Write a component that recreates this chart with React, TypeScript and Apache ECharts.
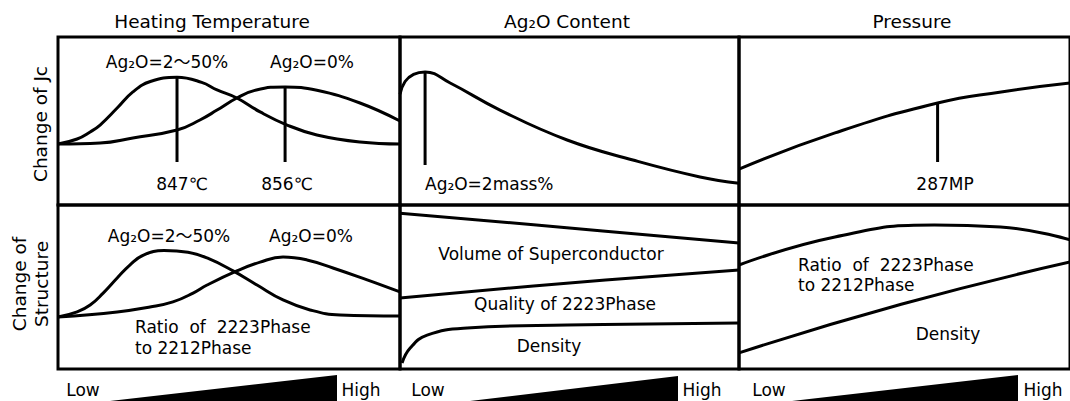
import React, { useEffect, useRef } from "react";
import * as echarts from "echarts";

// ---- data (x: 0 = Low … 100 = High, y: 0 … 100 relative change) ----
const heatJcA = [[0, 36.3], [5.6, 39.3], [9.4, 43.5], [12.3, 47.6], [17.3, 57.7], [21.9, 67.3], [27, 73.5], [34.8, 76], [42, 73], [46.5, 68.5], [52.3, 63.7], [59.1, 55.4], [67, 47.6], [75.7, 41.7], [88.3, 37.5], [100, 36.3]];
const heatJcB = [[0, 36.3], [12.3, 36.9], [21.9, 39.9], [34.8, 44.6], [41.5, 50.6], [46.5, 56.5], [52.3, 63.7], [58, 68.5], [66.4, 70.3], [75.7, 68.3], [88.3, 60.7], [100, 50]];
const heatJcMarkA = [[34.8, 76], [34.8, 25.6]];
const heatJcMarkB = [[66.4, 70.3], [66.4, 25.6]];

const contentJc = [[0, 66], [1.5, 73.5], [4, 77.8], [7.4, 79.2], [14.8, 72.6], [29.5, 56.5], [49.3, 38.7], [68.7, 26.8], [88.5, 16.7], [100, 13]];
const contentJcMark = [[7.4, 79.2], [7.4, 23.8]];

const pressureJc = [[0, 21.4], [29, 42.9], [60, 60.7], [79.2, 67.3], [100, 72.6]];
const pressureJcMark = [[60, 60.7], [60, 25.6]];

const heatStA = [[0, 31.7], [5.6, 34.8], [9.4, 39], [13.2, 46.3], [17.3, 55.5], [21, 63.4], [25, 69.5], [31, 72.2], [38, 71.2], [43.6, 67.7], [51.2, 59.8], [58.2, 51.2], [65.8, 42.1], [73.7, 36], [82.5, 32.9], [100, 32.3]];
const heatStB = [[0, 31.7], [17.3, 34.8], [26.9, 37.8], [33.6, 40.9], [39.5, 46.3], [43.6, 51.2], [52.3, 59.8], [59.1, 65.2], [65.8, 68.3], [72.8, 66.5], [80.4, 61.6], [90.4, 54.3], [100, 47]];

const contentVol = [[0, 95], [50, 86], [100, 76.8]];
const contentQual = [[0, 43.3], [50, 52.5], [100, 60.4]];
const contentDens = [[0.6, 3.7], [3, 12.8], [8, 20.7], [19.8, 25], [49.3, 26.8], [100, 28]];

const pressRatio = [[0, 63.4], [29, 80.5], [59, 87.8], [79, 86.6], [100, 78.7]];
const pressDens = [[0, 9.8], [49, 39.5], [100, 65.2]];

const columnTitles = ["Heating Temperature", "Ag₂O Content", "Pressure"];
const rowTitles = ["Change of Jc", "Change of\nStructure"];
const scaleLabels = ["Low", "High"];

const FONT = "'DejaVu Sans', 'Noto Sans CJK JP', sans-serif";

export default function App() {
  const ref = useRef<HTMLDivElement>(null);
  useEffect(() => {
    if (!ref.current) return;
    const chart = echarts.init(ref.current, undefined, { renderer: "svg" });

    const cols = [
      { left: 58, width: 342 },
      { left: 400, width: 339 },
      { left: 739, width: 340 },
    ];
    const rows = [
      { top: 37, height: 168 },
      { top: 205, height: 164 },
    ];
    const grids: any[] = [];
    const xAxes: any[] = [];
    const yAxes: any[] = [];
    rows.forEach((r) =>
      cols.forEach((c) => {
        grids.push({
          left: c.left,
          top: r.top,
          width: c.width,
          height: r.height,
          show: true,
          borderColor: "#000",
          borderWidth: 3,
          backgroundColor: "transparent",
          containLabel: false,
        });
        const i = grids.length - 1;
        xAxes.push({ gridIndex: i, type: "value", min: 0, max: 100, show: false });
        yAxes.push({ gridIndex: i, type: "value", min: 0, max: 100, show: false });
      })
    );

    const line = (data: number[][], idx: number, smooth: boolean | number = 0.45) => ({
      type: "line",
      xAxisIndex: idx,
      yAxisIndex: idx,
      data,
      smooth,
      symbol: "none",
      silent: true,
      lineStyle: { color: "#000", width: 3 },
    });

    const series = [
      line(heatJcA, 0),
      line(heatJcB, 0),
      line(heatJcMarkA, 0, false),
      line(heatJcMarkB, 0, false),
      line(contentJc, 1),
      line(contentJcMark, 1, false),
      line(pressureJc, 2, 0.5),
      line(pressureJcMark, 2, false),
      line(heatStA, 3),
      line(heatStB, 3),
      line(contentVol, 4),
      line(contentQual, 4),
      line(contentDens, 4),
      line(pressRatio, 5, 0.5),
      line(pressDens, 5, 0.5),
    ];

    const txt = (text: string, x: number, y: number, size = 17, align = "center", extra: any = {}) => ({
      type: "text",
      x,
      y,
      ...extra,
      style: {
        text,
        fontSize: size,
        fontFamily: FONT,
        fill: "#000",
        textAlign: align,
        textVerticalAlign: "middle",
        verticalAlign: "middle",
        lineHeight: 22,
      },
    });

    const graphic: any[] = [
      txt(columnTitles[0], 212, 21, 18.5),
      txt(columnTitles[1], 567, 21, 18.5),
      txt(columnTitles[2], 912, 21, 18.5),
      txt(rowTitles[0], 40, 124, 18.5, "center", { rotation: Math.PI / 2 }),
      txt(rowTitles[1], 30, 284, 18.5, "center", { rotation: Math.PI / 2 }),
      txt("Ag₂O=2～50%", 167, 62),
      txt("Ag₂O=0%", 312, 62),
      txt("847℃", 182, 184),
      txt("856℃", 287, 184),
      txt("Ag₂O=2mass%", 425, 184, 17, "left"),
      txt("287MP", 945, 184),
      txt("Ag₂O=2～50%", 169, 236),
      txt("Ag₂O=0%", 311, 236),
      txt("Ratio  of  2223Phase", 135, 327, 17, "left"),
      txt("to 2212Phase", 135, 348, 17, "left"),
      txt("Volume of Superconductor", 551, 254),
      txt("Quality of 2223Phase", 565, 304),
      txt("Density", 549, 346),
      txt("Ratio  of  2223Phase", 798, 265, 17, "left"),
      txt("to 2212Phase", 798, 285, 17, "left"),
      txt("Density", 948, 334),
      txt(scaleLabels[0], 83, 390),
      txt(scaleLabels[1], 361, 390),
      txt(scaleLabels[0], 428, 390),
      txt(scaleLabels[1], 702, 390),
      txt(scaleLabels[0], 769, 390),
      txt(scaleLabels[1], 1043, 390),
      { type: "polygon", shape: { points: [[110, 401], [337, 375], [337, 401]] }, style: { fill: "#000" } },
      { type: "polygon", shape: { points: [[470, 401], [678, 376], [678, 401]] }, style: { fill: "#000" } },
      { type: "polygon", shape: { points: [[792, 401], [1018, 375], [1018, 401]] }, style: { fill: "#000" } },
    ];

    chart.setOption({
      animation: false,
      backgroundColor: "#fff",
      grid: grids,
      xAxis: xAxes,
      yAxis: yAxes,
      series,
      graphic,
    });
    return () => chart.dispose();
  }, []);

  return (
    <div
      ref={ref}
      style={{ position: "absolute", left: 0, top: 0, width: 1070, height: 401 }}
    />
  );
}
